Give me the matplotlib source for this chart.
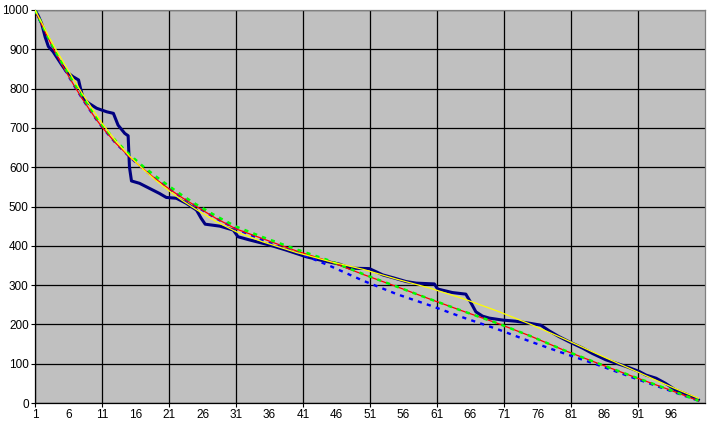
import matplotlib
matplotlib.use('Agg')
import matplotlib.pyplot as plt

plt.rcParams['font.family'] = ['Liberation Sans', 'DejaVu Sans']
plt.rcParams['lines.scale_dashes'] = False

navy_x = [1, 1.5, 2, 2.5, 3, 3.7, 5, 5.7, 6.7, 7.5, 7.8, 8.2, 9, 10.2, 11.7, 12.7,
          13.4, 14.4, 14.9, 15.1, 15.4, 16.6, 18.1, 19.6, 20.6, 22.1, 23.6, 25.1,
          25.8, 26.4, 28.6, 30.6, 31.3, 33, 36, 38.5, 41.5, 43.5, 46.5, 48, 50.9,
          51.4, 52.9, 54.6, 56.4, 57.9, 60.6, 61.1, 63.3, 65.3, 66.1, 66.8, 67.8,
          68.8, 70.8, 72.8, 74.8, 76.5, 77.8, 79.2, 80.7, 82.7, 84.2, 86.2, 89.2,
          91.2, 92.2, 93.7, 95.1, 96.6, 98.1, 100]
navy_y = [1000, 985, 965, 932, 907, 894, 860, 843, 830, 822, 800, 775, 763, 750, 741, 737,
          707, 686, 680, 600, 565, 559, 546, 533, 523, 521, 508, 491,
          470, 455, 450, 440, 423, 415, 402, 389, 372, 364, 353, 343, 342,
          338, 326, 318, 309, 305, 303, 290, 281, 277, 254, 232, 221,
          216, 211, 208, 203, 198, 183, 169, 156, 140, 126, 110, 93,
          80, 71, 63, 50, 33, 23, 8]

# smooth curves, read at these categories
curve_x = [1, 2, 3, 4, 5, 6, 7, 8, 9, 10, 11, 13, 15, 17, 19, 21, 23, 25, 28, 31,
           35, 40, 45, 50, 55, 60, 65, 70, 75, 80, 85, 90, 95, 100]
red_y = [1000, 963, 927, 893, 862, 832, 803, 776, 750, 725, 702, 662, 628, 598, 570,
         545, 522, 501, 470, 443, 418, 387, 360, 327, 296, 264, 233, 203, 170, 134,
         101, 69, 38, 6]
green_y = [1000, 965, 930, 897, 867, 838, 810, 783, 757, 732, 708, 668, 634, 604, 577,
           552, 528, 506, 476, 449, 422, 391, 362, 328, 296, 264, 233, 203, 170, 134,
           101, 69, 38, 6]
yellow_y = [1000, 968, 934, 903, 874, 845, 817, 789, 763, 737, 712, 668, 630, 597, 567,
            540, 515, 493, 462, 436, 410, 383, 360, 340, 315, 292, 265, 234, 200, 163,
            124, 86, 48, 12]
blue_y = [1000, 963, 927, 893, 862, 832, 803, 776, 750, 725, 702, 662, 628, 598, 570,
          545, 522, 501, 470, 443, 414, 384, 349, 311, 277, 248, 217, 188, 156, 126,
          97, 66, 36, 6]

grid_ticks = list(range(1, 101, 10))
label_ticks = list(range(6, 101, 10))

fig = plt.figure(figsize=(7.09, 4.30), dpi=100)
ax = fig.add_axes([35 / 709, 27 / 430, 670 / 709, 393 / 430])
ax.set_facecolor('#C0C0C0')

ax.plot(navy_x, navy_y, color='#000080', linewidth=2.2, zorder=3)
ax.plot(curve_x, blue_y, color='#0000FF', linewidth=1.7,
        linestyle=(0, (3.0, 3.8)), zorder=4)
ax.plot(curve_x, red_y, color='#FF0000', linewidth=0.9, zorder=5)
ax.plot(curve_x, green_y, color='#00FF00', linewidth=1.8,
        linestyle=(0, (3.0, 3.8)), zorder=6)
ax.plot(curve_x, yellow_y, color='#FFFF00', linewidth=0.9, zorder=7)

ax.set_xlim(1, 101)
ax.set_ylim(0, 1000)
ax.set_yticks(range(0, 1001, 100))
ax.set_xticks(grid_ticks)
ax.set_xticklabels([str(t) for t in grid_ticks])
ax.set_xticks(label_ticks, minor=True)
ax.set_xticklabels([str(t) for t in label_ticks], minor=True)

ax.grid(True, which='major', color='black', linewidth=0.9)
ax.set_axisbelow(True)

ax.tick_params(axis='y', direction='out', length=3, width=0.8, pad=1.5, labelsize=8.5)
ax.tick_params(axis='x', which='major', direction='out', length=3, width=0.8, pad=1.5,
               labelsize=8.5)
ax.tick_params(axis='x', which='minor', length=0, pad=4.5, labelsize=8.5)

for side in ['left', 'bottom']:
    ax.spines[side].set_color('black')
    ax.spines[side].set_linewidth(0.9)
for side in ['top', 'right']:
    ax.spines[side].set_color('#808080')
    ax.spines[side].set_linewidth(0.9)

fig.savefig('out.png', dpi=100)
